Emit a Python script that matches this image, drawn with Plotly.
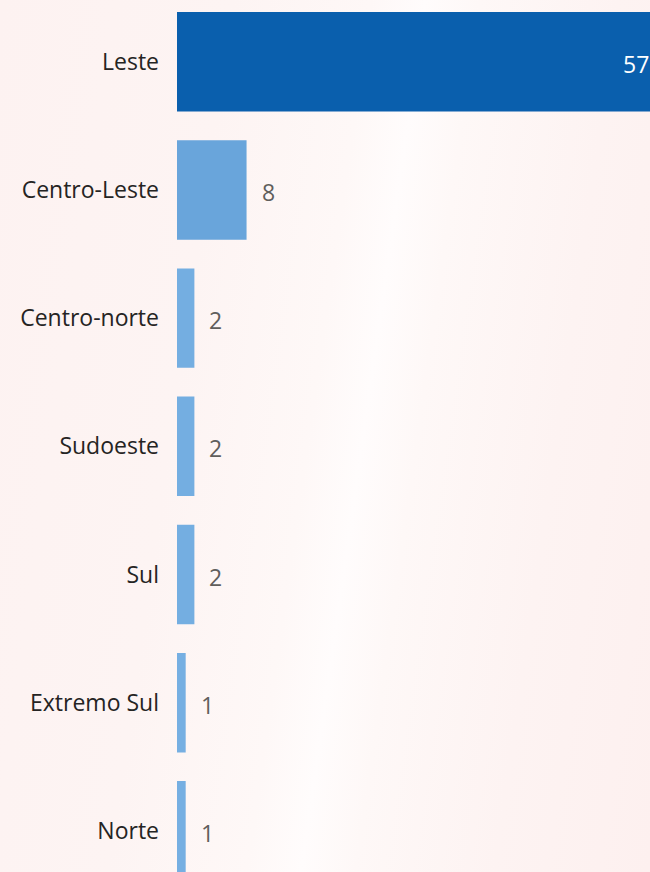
import base64
import plotly.graph_objects as go

# ---- data ----
categories = ["Leste", "Centro-Leste", "Centro-norte", "Sudoeste", "Sul", "Extremo Sul", "Norte"]
values = [57, 8, 2, 2, 2, 1, 1]

# ---- styling ----
W, H = 650, 872
ML = 177
bar_colorscale = [[0, "#76afe2"], [1, "#0a5fad"]]
label_font = dict(family="Open Sans, Noto Sans, sans-serif", size=23, color="#252423")
value_font = dict(family="Open Sans, Noto Sans, sans-serif", size=23, color="#605e5c")

fig = go.Figure(
    go.Bar(
        x=values,
        y=categories,
        orientation="h",
        width=0.776,
        marker=dict(color=values, colorscale=bar_colorscale,
                    cmin=min(values), cmax=max(values), line=dict(width=0)),
        hoverinfo="skip",
    )
)

# value labels
vmax = max(values)
annotations = []
for c, v in zip(categories, values):
    if v == vmax:
        annotations.append(dict(x=1, xref="paper", y=c, yref="y", text=str(v),
                                xanchor="right", yanchor="middle", showarrow=False,
                                xshift=1, yshift=-2, font=dict(value_font, color="#ffffff")))
    else:
        annotations.append(dict(x=v, xref="x", y=c, yref="y", text=str(v),
                                xanchor="left", yanchor="middle", showarrow=False,
                                xshift=13, yshift=-2, font=value_font))

# background gradient (soft diagonal light streak)
svg = f'''<svg xmlns="http://www.w3.org/2000/svg" width="{W}" height="{H}" viewBox="0 0 {W} {H}" preserveAspectRatio="none">
<defs><linearGradient id="g" gradientUnits="userSpaceOnUse" x1="0" y1="0" x2="758" y2="108">
<stop offset="0" stop-color="#fdf2f1"/>
<stop offset="0.3" stop-color="#fdf4f3"/>
<stop offset="0.48" stop-color="#fef8f7"/>
<stop offset="0.55" stop-color="#fffcfc"/>
<stop offset="0.62" stop-color="#fef8f7"/>
<stop offset="0.8" stop-color="#fdf3f2"/>
<stop offset="1" stop-color="#fdf0ef"/>
</linearGradient></defs>
<rect width="{W}" height="{H}" fill="url(#g)"/></svg>'''
src = "data:image/svg+xml;base64," + base64.b64encode(svg.encode()).decode()
pw = W - ML

fig.update_layout(
    width=W, height=H,
    margin=dict(l=ML, r=0, t=0, b=0, pad=0),
    template="none",
    paper_bgcolor="rgba(0,0,0,0)",
    plot_bgcolor="rgba(0,0,0,0)",
    showlegend=False,
    annotations=annotations,
    images=[dict(source=src, xref="paper", yref="paper", x=-ML / pw, y=1,
                 sizex=W / pw, sizey=1, sizing="stretch", xanchor="left",
                 yanchor="top", layer="below")],
    xaxis=dict(range=[0, 54.4], visible=False, showgrid=False, zeroline=False, fixedrange=True),
    yaxis=dict(type="category", categoryorder="array", categoryarray=categories,
               range=[6.321, -0.482], showgrid=False, zeroline=False, showline=False,
               ticks="", tickfont=label_font, ticklabelstandoff=17, automargin=False,
               fixedrange=True),
)

fig.write_html(
    "out.html",
    config={"displayModeBar": False},
    post_script="document.body.style.margin='0';document.body.style.overflow='hidden';",
)
